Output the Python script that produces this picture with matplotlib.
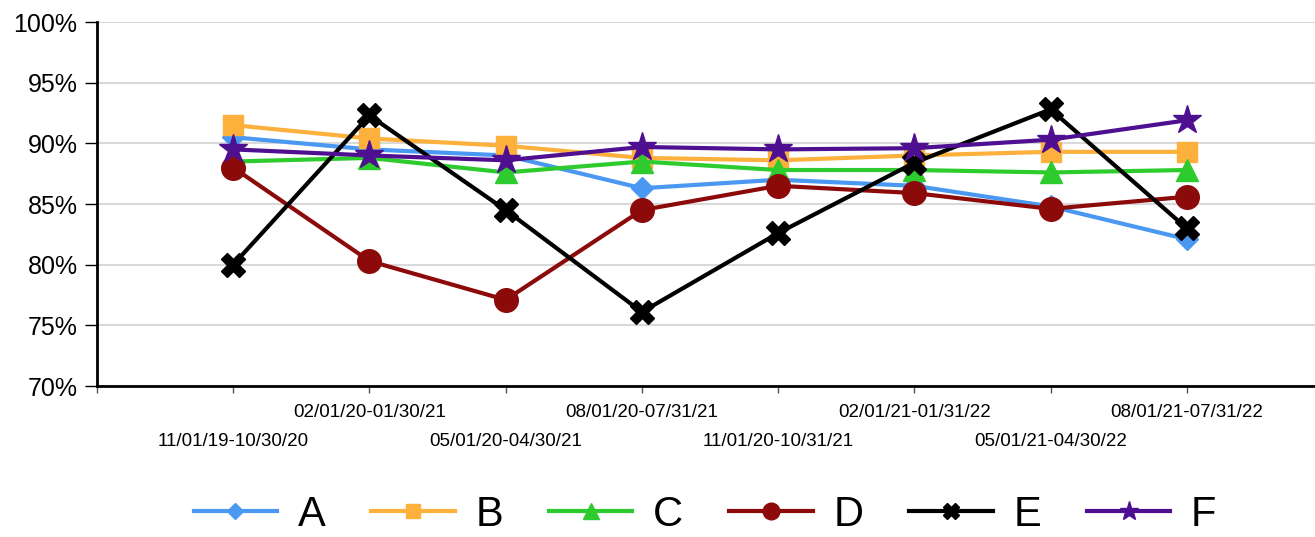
import matplotlib.pyplot as plt
from matplotlib.ticker import FuncFormatter

plt.rcParams['font.family'] = ['Liberation Sans', 'DejaVu Sans']

periods = ['11/01/19-10/30/20', '02/01/20-01/30/21', '05/01/20-04/30/21',
           '08/01/20-07/31/21', '11/01/20-10/31/21', '02/01/21-01/31/22',
           '05/01/21-04/30/22', '08/01/21-07/31/22']

a_vals = [90.5, 89.5, 89.0, 86.3, 87.0, 86.5, 84.8, 82.1]
b_vals = [91.5, 90.4, 89.8, 88.8, 88.6, 89.0, 89.3, 89.3]
c_vals = [88.5, 88.8, 87.6, 88.5, 87.8, 87.8, 87.6, 87.8]
d_vals = [88.0, 80.3, 77.1, 84.5, 86.5, 85.9, 84.6, 85.6]
e_vals = [80.0, 92.3, 84.5, 76.1, 82.6, 88.4, 92.8, 83.0]
f_vals = [89.5, 89.0, 88.6, 89.7, 89.5, 89.6, 90.3, 91.9]

names = ['A', 'B', 'C', 'D', 'E', 'F']
colors = ['#4A98F2', '#FDB03C', '#2ECB2E', '#8C0A0A', '#000000', '#4E0F90']
markers = ['D', 's', '^', 'o', 'X', '*']
msizes = [11, 14, 16, 17, 17, 21]
leg_msizes = [8, 10, 11, 12, 11, 14]

fig = plt.figure(figsize=(13.15, 5.37), dpi=100)
ax = fig.add_axes([97 / 1315, 1 - 386 / 537, 1226 / 1315, 364 / 537])

x = list(range(len(periods)))
series = [a_vals, b_vals, c_vals, d_vals, e_vals, f_vals]
for i, vals in enumerate(series):
    ax.plot(x, vals, color=colors[i], marker=markers[i], markersize=msizes[i],
            linewidth=3, label=names[i], zorder=3 + i)

ax.set_ylim(70, 100)
ax.set_xlim(-1, 8)
ax.set_yticks(range(70, 101, 5))
ax.yaxis.set_major_formatter(FuncFormatter(lambda v, p: f'{v:.0f}%'))
ax.grid(axis='y', color='#d9d9d9', linewidth=1.5)
ax.set_axisbelow(True)

# tick marks at every slot, labels staggered on two rows
ax.set_xticks(range(-1, 9))
top_row = [''] + [p if i % 2 == 1 else '' for i, p in enumerate(periods)] + ['']
ax.set_xticklabels(top_row, fontsize=13.5)
ax.tick_params(axis='x', length=5, width=1, pad=8, color='#555555')

sec = ax.secondary_xaxis('bottom')
sec.set_xticks(x[::2], periods[::2], fontsize=13.5)
sec.tick_params(axis='x', length=0, pad=34)
sec.spines['bottom'].set_visible(False)

ax.tick_params(axis='y', labelsize=18, length=9, width=1, pad=5)

for side in ['top', 'right']:
    ax.spines[side].set_visible(False)
ax.spines['left'].set_linewidth(2)
ax.spines['bottom'].set_linewidth(2)

leg = fig.legend(loc='lower center', bbox_to_anchor=(705 / 1315, -0.035), ncol=6,
                 frameon=False, fontsize=30, handlelength=2.0, handletextpad=0.5,
                 columnspacing=1.1, borderpad=0)
for h, s in zip(leg.legend_handles, leg_msizes):
    h.set_markersize(s)

fig.savefig('out.png', dpi=100)
